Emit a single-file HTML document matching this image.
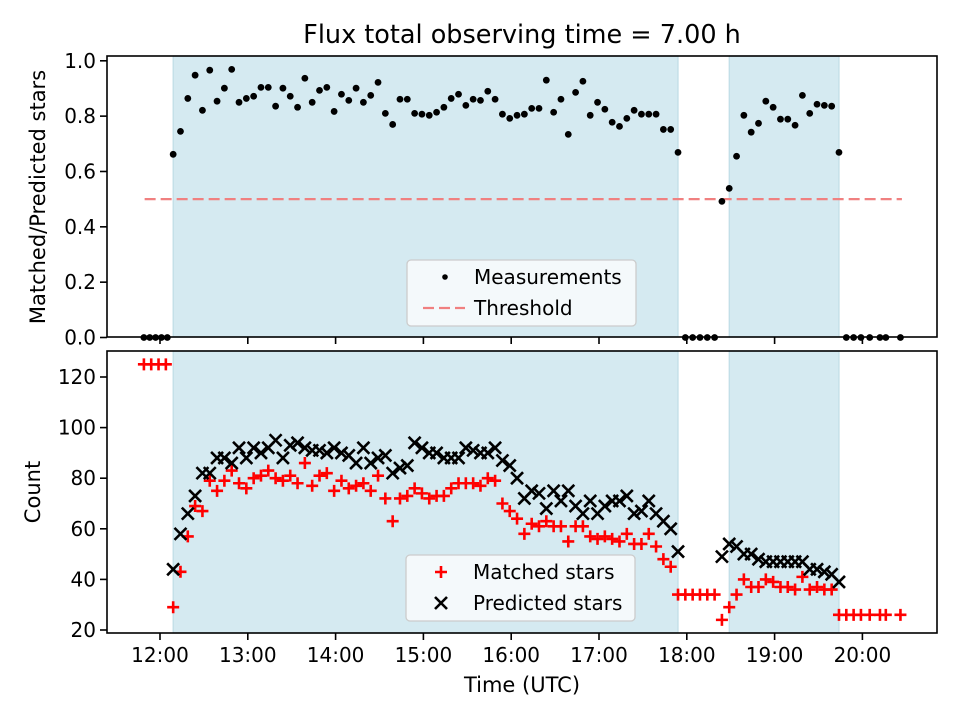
<!DOCTYPE html>
<html><head><meta charset="utf-8"><style>
html,body{margin:0;padding:0;background:#fff;}
svg{display:block;font-family:"DejaVu Sans","Liberation Sans",sans-serif;}
</style></head><body>
<svg id="fig" width="960" height="720" viewBox="0 0 960 720" xmlns="http://www.w3.org/2000/svg">
<rect width="960" height="720" fill="#fff"/>
<text x="522" y="43" font-size="25.5" text-anchor="middle" fill="#000">Flux total observing time = 7.00 h</text>
<g id="topPanel"></g>
<g id="botPanel"></g>
<text transform="translate(45,197) rotate(-90)" font-size="21" text-anchor="middle">Matched/Predicted stars</text>
<text transform="translate(40,492) rotate(-90)" font-size="21" text-anchor="middle">Count</text>
<text x="522" y="692" font-size="21" text-anchor="middle">Time (UTC)</text>
</svg>
<script>
// minutes after 12:00 UTC
const ratioTimes = [-11,-7,-3,1,5,9,14,19,24,29,34,39,44,49,54,59,64,69,74,79,84,89,94,99,104,109,114,119,124,129,134,139,144,149,154,159,164,169,174,179,184,189,194,199,204,209,214,219,224,229,234,239,244,249,254,259,264,269,274,279,284,289,294,299,304,309,314,319,324,329,334,339,344,349,354,359,364,369,374,379,384,389,394,399,404,409,414,419,424,429,434,439,444,449,454,459,464,469,474,479,485,492,496,506];
const ratioValues = [0,0,0,0,0,0.662,0.745,0.864,0.948,0.821,0.966,0.854,0.901,0.969,0.850,0.864,0.872,0.904,0.904,0.836,0.901,0.872,0.832,0.937,0.850,0.893,0.904,0.817,0.879,0.857,0.901,0.850,0.875,0.922,0.810,0.770,0.861,0.861,0.810,0.807,0.803,0.814,0.832,0.864,0.879,0.839,0.861,0.857,0.890,0.861,0.807,0.792,0.803,0.807,0.828,0.828,0.930,0.814,0.861,0.734,0.886,0.926,0.803,0.850,0.825,0.778,0.763,0.792,0.821,0.807,0.807,0.807,0.752,0.752,0.669,0,0,0,0,0,0.492,0.539,0.655,0.803,0.742,0.774,0.854,0.832,0.789,0.789,0.767,0.875,0.810,0.843,0.839,0.836,0.669,0,0,0,0,0,0,0];
const matchedTimes = [-11,-6,-1,4,9,14,19,24,29,34,39,44,49,54,59,64,69,74,79,84,89,94,99,104,109,114,119,124,129,134,139,144,149,154,159,164,169,174,179,184,189,194,199,204,209,214,219,224,229,234,239,244,249,254,259,264,269,274,279,284,289,294,299,304,309,314,319,324,329,334,339,344,349,354,359,364,369,374,379,384,389,394,399,404,409,414,419,424,429,434,439,444,449,454,459,464,469,474,479,485,492,496,506];
const matchedValues = [125,125,125,125,29,43,57,69,67,79,75,79,83,78,76,80,81,83,80,79,81,78,86,77,81,82,75,79,76,77,78,75,81,72,63,72,73,76,74,72,73,73,76,78,78,78,77,80,79,70,67,64,58,62,61,63,61,61,55,61,61,57,56,57,56,55,58,54,54,58,53,48,45,34,34,34,34,34,34,24,29,34,40,37,37,40,39,37,37,36,41,36,37,36,36,26,26,26,26,26,26,26,26];
const predTimes = [9,14,19,24,29,34,39,44,49,54,59,64,69,74,79,84,89,94,99,104,109,114,119,124,129,134,139,144,149,154,159,164,169,174,179,184,189,194,199,204,209,214,219,224,229,234,239,244,249,254,259,264,269,274,279,284,289,294,299,304,309,314,319,324,329,334,339,344,349,354,384,389,394,399,404,409,414,419,424,429,434,439,444,449,454,459,464];
const predValues = [44,58,66,73,82,82,88,88,86,92,88,92,90,92,95,88,93,94,92,91,91,90,92,90,89,86,92,86,88,89,82,84,85,94,92,90,90,88,88,88,92,91,90,90,92,87,85,80,72,75,74,68,75,71,75,69,66,71,66,69,71,71,73,66,67,71,66,63,60,51,49,54,53,50,50,48,47,47,47,47,47,47,44,44,43,42,39];
const shadeSpans = [[9,354],[389,464]];
const hourTicks = [0,60,120,180,240,300,360,420,480];
const hourLabels = ["12:00","13:00","14:00","15:00","16:00","17:00","18:00","19:00","20:00"];
const ratioTicks = [0,0.2,0.4,0.6,0.8,1.0];
const countTicks = [20,40,60,80,100,120];
const threshold = 0.5;
const thresholdSpan = [-10.5,507];

const NS="http://www.w3.org/2000/svg";
const L=107,R=937;
const xS=t=>160+t*(87.8/60);
const yT=v=>337.5-v*276.7;
const yB=v=>630-(v-20)*2.53;
function mk(p,tag,at){const e=document.createElementNS(NS,tag);for(const k in at)e.setAttribute(k,at[k]);p.appendChild(e);return e;}
const topG=document.getElementById('topPanel'), botG=document.getElementById('botPanel');

function panel(g,y0,y1,prefix){
  for(const s of shadeSpans){
    const r=mk(g,'rect',{x:xS(s[0]),y:y0,width:xS(s[1])-xS(s[0]),height:y1-y0,fill:'#d5eaf1',stroke:'#bfdde6','stroke-width':1.2});
    
    
  }
}
panel(topG,56,337,'top');
panel(botG,351,633,'bottom');

const th=mk(topG,'line',{x1:xS(thresholdSpan[0]),x2:xS(thresholdSpan[1]),y1:yT(threshold),y2:yT(threshold),stroke:'#f08080','stroke-width':2.2,'stroke-dasharray':'11,5'});



ratioTimes.forEach((t,i)=>{
  const c=mk(topG,'circle',{cx:xS(t),cy:yT(ratioValues[i]),r:3.4,fill:'#000'});
  
  
});

function plus(g,x,y){return mk(g,'path',{d:`M${x-6},${y}H${x+6}M${x},${y-6}V${y+6}`,stroke:'#ff0000','stroke-width':2.6,fill:'none'});}
function cross(g,x,y){return mk(g,'path',{d:`M${x-6},${y-6}L${x+6},${y+6}M${x-6},${y+6}L${x+6},${y-6}`,stroke:'#000','stroke-width':2.6,fill:'none'});}
matchedTimes.forEach((t,i)=>{
  const p=plus(botG,xS(t),yB(matchedValues[i]));
  
  
});
predTimes.forEach((t,i)=>{
  const p=cross(botG,xS(t),yB(predValues[i]));
  
  
});

function frame(g,y0,y1,prefix,yTicks,yf,fmt,labelsX){
  const f=mk(g,'rect',{x:L,y:y0,width:R-L,height:y1-y0,fill:'none',stroke:'#000','stroke-width':1.6});
  
  
  hourTicks.forEach((t,i)=>{
    const x=xS(t);
    const tk=mk(g,'line',{x1:x,x2:x,y1:y1,y2:y1+7,stroke:'#000','stroke-width':1.6});
    
    
    if(labelsX){
      const tx=mk(g,'text',{x:x,y:y1+29,'font-size':20,'text-anchor':'middle'});
      tx.textContent=hourLabels[i];
      
      
    }
  });
  yTicks.forEach(v=>{
    const y=yf(v);
    const tk=mk(g,'line',{x1:L-7,x2:L,y1:y,y2:y,stroke:'#000','stroke-width':1.6});
    
    
    const tx=mk(g,'text',{x:L-11,y:y+7,'font-size':20,'text-anchor':'end'});
    tx.textContent=fmt(v);
    
    
  });
}
frame(topG,56,337,'top',ratioTicks,yT,v=>v.toFixed(1),false);
frame(botG,351,633,'bottom',countTicks,yB,v=>String(v),true);

function legend(g,x,y,prefix,items){
  const b=mk(g,'rect',{x:x,y:y,width:229,height:66,rx:4,fill:'#f6fafc','fill-opacity':0.92,stroke:'#cccccc','stroke-width':1.3});
  
  
  items.forEach((it,i)=>{
    const cy=y+17+i*31;
    const m=it.draw(x+31,cy);
    
    
    const t=mk(g,'text',{x:x+67,y:cy+7,'font-size':20});
    t.textContent=it.label;
    
    
  });
}
legend(topG,407,260,'top',[
  {label:'Measurements',draw:(x,y)=>mk(topG,'circle',{cx:x+7,cy:y,r:2.8,fill:'#000'})},
  {label:'Threshold',draw:(x,y)=>mk(topG,'line',{x1:x-15,x2:x+27,y1:y,y2:y,stroke:'#f08080','stroke-width':2.2,'stroke-dasharray':'11,5'})}
]);
legend(botG,406,555,'bottom',[
  {label:'Matched stars',draw:(x,y)=>plus(botG,x+4,y)},
  {label:'Predicted stars',draw:(x,y)=>cross(botG,x+4,y)}
]);
</script>
</body></html>
